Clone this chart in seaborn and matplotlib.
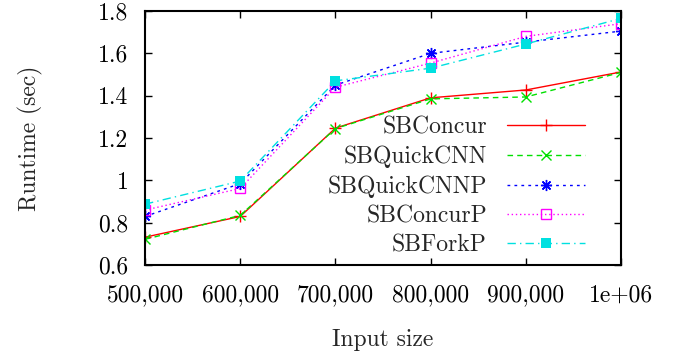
import matplotlib
matplotlib.use("Agg")
import matplotlib.pyplot as plt
import seaborn as sns
import pandas as pd

sizes = [500000, 600000, 700000, 800000, 900000, 1000000]
x_tick_labels = ["500,000", "600,000", "700,000", "800,000", "900,000", "1e+06"]
y_ticks = [0.6, 0.8, 1.0, 1.2, 1.4, 1.6, 1.8]
y_tick_labels = ["0.6", "0.8", "1", "1.2", "1.4", "1.6", "1.8"]

sb_concur = [0.732, 0.830, 1.247, 1.390, 1.427, 1.512]
sb_quickcnn = [0.722, 0.835, 1.245, 1.385, 1.394, 1.510]
sb_quickcnnp = [0.830, 0.985, 1.450, 1.600, 1.653, 1.705]
sb_concurp = [0.860, 0.962, 1.440, 1.554, 1.680, 1.740]
sb_forkp = [0.888, 0.997, 1.470, 1.530, 1.644, 1.765]

names = ["SBConcur", "SBQuickCNN", "SBQuickCNNP", "SBConcurP", "SBForkP"]
series = [sb_concur, sb_quickcnn, sb_quickcnnp, sb_concurp, sb_forkp]
colors = ["#ff0000", "#00e000", "#0000ff", "#ff00ff", "#00e0e0"]
styles = [
    dict(linestyle="-", marker="+", markersize=9, markeredgewidth=1.0),
    dict(linestyle=(0, (4, 3)), marker="x", markersize=7, markeredgewidth=1.0),
    dict(linestyle=(0, (2, 3)), marker=(8, 2, 0), markersize=8, markeredgewidth=1.0),
    dict(linestyle=(0, (1, 2)), marker="s", markersize=7, markerfacecolor="none", markeredgewidth=1.0),
    dict(linestyle=(0, (6, 3, 1, 3)), marker="s", markersize=7, markeredgewidth=0),
]

rows = []
for n, vals in zip(names, series):
    for s, v in zip(sizes, vals):
        rows.append({"size": s, "runtime": v, "method": n})
df = pd.DataFrame(rows)

sns.set_style("ticks")
plt.rcParams["font.family"] = ["serif"]
plt.rcParams["font.serif"] = ["cmr10", "DejaVu Serif"]
plt.rcParams["axes.formatter.use_mathtext"] = True

FS = 17

fig = plt.figure(figsize=(6.78, 3.54), dpi=100)
ax = fig.add_axes([0.214, 0.251, 0.702, 0.718])

for n, c, st in zip(names, colors, styles):
    sub = df[df["method"] == n]
    kw = dict(st)
    kw.setdefault("markerfacecolor", c)
    sns.lineplot(data=sub, x="size", y="runtime", ax=ax, color=c, label=n,
                 linewidth=1.0, markeredgecolor=c, **kw)

ax.set_xlim(500000, 1000000)
ax.set_ylim(0.6, 1.8)
ax.set_xticks(sizes)
ax.set_xticklabels(x_tick_labels)
ax.set_yticks(y_ticks)
ax.set_yticklabels(y_tick_labels)
ax.tick_params(direction="in", length=5, width=1.0, top=True, right=True,
               labelsize=FS, colors="black")
ax.tick_params(axis="x", pad=14)
ax.tick_params(axis="y", pad=12)
for sp in ax.spines.values():
    sp.set_linewidth(1.5)
    sp.set_color("black")
    sp.set_visible(True)
ax.set_xlabel("Input size", fontsize=FS, labelpad=16)
ax.set_ylabel("Runtime (sec)", fontsize=FS, labelpad=40)

leg = ax.legend(loc="lower right", bbox_to_anchor=(0.924, 0.035), frameon=False,
                markerfirst=False, fontsize=FS, handlelength=3.3, labelspacing=0.3,
                handletextpad=0.85, borderaxespad=0.0, borderpad=0.0)
fig.savefig("out.png", dpi=100)
